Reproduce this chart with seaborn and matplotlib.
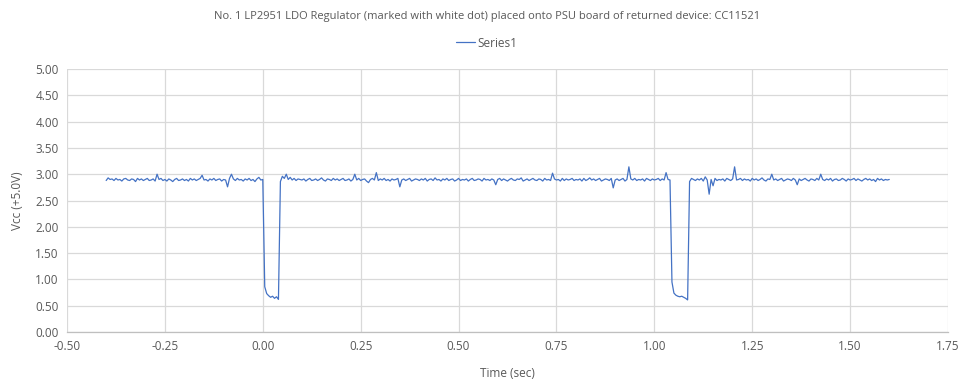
import numpy as np
import pandas as pd
import matplotlib
matplotlib.use("Agg")
import matplotlib.pyplot as plt
import seaborn as sns

# sampled every 5 ms from -0.40 s to 1.60 s
t_start = -0.40
t_step = 0.005

vcc = [
    # -0.40 .. -0.305
    2.88, 2.93, 2.90, 2.91, 2.88, 2.92, 2.89, 2.90, 2.87, 2.91, 2.92, 2.89, 2.88, 2.91, 2.90, 2.86, 2.92, 2.89, 2.91, 2.88,
    # -0.30 .. -0.205
    2.90, 2.92, 2.88, 2.89, 2.91, 2.87, 3.00, 2.90, 2.92, 2.88, 2.90, 2.87, 2.91, 2.89, 2.86, 2.90, 2.92, 2.88, 2.89, 2.91,
    # -0.20 .. -0.105
    2.88, 2.90, 2.87, 2.92, 2.89, 2.91, 2.88, 2.90, 2.92, 2.98, 2.89, 2.90, 2.87, 2.91, 2.89, 2.92, 2.88, 2.90, 2.91, 2.87,
    # -0.10 .. -0.005
    2.90, 2.89, 2.76, 2.92, 3.00, 2.91, 2.88, 2.92, 2.89, 2.90, 2.87, 2.91, 2.89, 2.92, 2.88, 2.90, 2.86, 2.91, 2.94, 2.89,
    # 0.00 .. 0.095  (first dropout)
    2.90, 0.86, 0.73, 0.69, 0.66, 0.68, 0.64, 0.67, 0.62, 2.86, 2.96, 2.92, 3.00, 2.90, 2.94, 2.89, 2.92, 2.88, 2.91, 2.90,
    # 0.10 .. 0.195
    2.89, 2.91, 2.87, 2.90, 2.92, 2.88, 2.89, 2.91, 2.88, 2.90, 2.93, 2.89, 2.87, 2.91, 2.90, 2.88, 2.92, 2.89, 2.91, 2.88,
    # 0.20 .. 0.295
    2.90, 2.92, 2.88, 2.89, 2.91, 2.87, 2.90, 3.00, 2.89, 2.92, 2.88, 2.90, 2.91, 2.87, 2.84, 2.90, 2.92, 2.89, 3.03, 2.88,
    # 0.30 .. 0.395
    2.91, 2.89, 2.92, 2.88, 2.90, 2.87, 2.91, 2.89, 2.90, 2.92, 2.76, 2.89, 2.91, 2.88, 2.90, 2.92, 2.87, 2.89, 2.91, 2.90,
    # 0.40 .. 0.495
    2.88, 2.91, 2.89, 2.92, 2.87, 2.90, 2.91, 2.88, 2.93, 2.89, 2.90, 2.87, 2.91, 2.89, 2.92, 2.88, 2.90, 2.91, 2.87, 2.89,
    # 0.50 .. 0.595
    2.92, 2.88, 2.90, 2.89, 2.91, 2.87, 2.90, 2.92, 2.88, 2.89, 2.91, 2.90, 2.87, 2.92, 2.89, 2.90, 2.88, 2.91, 2.89, 2.80,
    # 0.60 .. 0.695
    2.90, 2.92, 2.88, 2.91, 2.89, 2.87, 2.90, 2.92, 2.89, 2.88, 2.91, 2.90, 2.93, 2.87, 2.89, 2.91, 2.88, 2.90, 2.92, 2.89,
    # 0.70 .. 0.795
    2.88, 2.91, 2.90, 2.87, 2.92, 2.89, 2.90, 2.88, 3.02, 2.91, 2.89, 2.90, 2.87, 2.92, 2.88, 2.91, 2.89, 2.90, 2.92, 2.88,
    # 0.80 .. 0.895
    2.90, 2.89, 2.91, 2.87, 2.92, 2.88, 2.90, 2.93, 2.89, 2.91, 2.88, 2.90, 2.92, 2.87, 2.89, 2.91, 2.90, 2.88, 2.92, 2.74,
    # 0.90 .. 0.995
    2.89, 2.91, 2.88, 2.90, 2.92, 2.87, 2.90, 3.14, 2.91, 2.89, 2.92, 2.88, 2.90, 2.89, 2.91, 2.87, 2.92, 2.90, 2.88, 2.91,
    # 1.00 .. 1.095  (second dropout)
    2.89, 2.90, 2.92, 2.88, 2.91, 2.89, 3.03, 2.90, 2.89, 0.95, 0.74, 0.70, 0.68, 0.67, 0.68, 0.66, 0.64, 0.61, 2.86, 2.92,
    # 1.10 .. 1.195
    2.90, 2.88, 2.91, 2.89, 2.92, 2.87, 2.95, 2.89, 2.62, 2.90, 2.78, 2.92, 2.88, 2.90, 2.89, 2.91, 2.87, 2.92, 2.90, 2.88,
    # 1.20 .. 1.295
    2.91, 3.14, 2.89, 2.90, 2.92, 2.88, 2.91, 2.89, 2.90, 2.87, 2.92, 2.89, 2.91, 2.88, 2.90, 2.93, 2.89, 2.87, 2.91, 2.90,
    # 1.30 .. 1.395
    3.00, 2.89, 2.91, 2.88, 2.90, 2.92, 2.87, 2.89, 2.91, 2.90, 2.88, 2.92, 2.89, 2.80, 2.91, 2.88, 2.90, 2.92, 2.89, 2.87,
    # 1.40 .. 1.495
    2.91, 2.90, 2.88, 2.92, 2.89, 3.00, 2.90, 2.88, 2.91, 2.89, 2.92, 2.87, 2.90, 2.91, 2.88, 2.89, 2.92, 2.90, 2.87, 2.91,
    # 1.50 .. 1.60
    2.89, 2.90, 2.92, 2.88, 2.91, 2.89, 2.87, 2.90, 2.92, 2.89, 2.91, 2.88, 2.90, 2.86, 2.92, 2.89, 2.91, 2.88, 2.90, 2.89,
    2.90,
]

x_ticks = [-0.50, -0.25, 0.00, 0.25, 0.50, 0.75, 1.00, 1.25, 1.50, 1.75]
y_ticks = [0.0, 0.5, 1.0, 1.5, 2.0, 2.5, 3.0, 3.5, 4.0, 4.5, 5.0]

title = "No. 1 LP2951 LDO Regulator (marked with white dot) placed onto PSU board of returned device: CC11521"

time = t_start + t_step * np.arange(len(vcc))
df = pd.DataFrame({"Time (sec)": time, "Vcc": vcc, "series": "Series1"})

sns.set_style("white")
plt.rcParams["font.family"] = ["Liberation Sans Narrow", "Open Sans", "DejaVu Sans"]

text_col = "#595959"
grid_col = "#D9D9D9"

fig = plt.figure(figsize=(9.74, 3.91), dpi=100)
ax = fig.add_axes([0.0688, 0.1509, 0.9045, 0.6726])

sns.lineplot(data=df, x="Time (sec)", y="Vcc", hue="series",
             palette=["#4472C4"], linewidth=0.9, ax=ax, legend=True)

ax.set_xlim(-0.5, 1.75)
ax.set_ylim(0, 5)
ax.set_xticks(x_ticks)
ax.set_yticks(y_ticks)
ax.set_xticklabels([f"{v:.2f}" for v in x_ticks])
ax.set_yticklabels([f"{v:.2f}" for v in y_ticks])
ax.tick_params(length=0, labelsize=8.5, colors=text_col, pad=6)
ax.grid(True, color=grid_col, linewidth=0.9)
ax.set_axisbelow(True)
for side in ["top", "right", "left"]:
    ax.spines[side].set_visible(False)
ax.spines["bottom"].set_color("#BFBFBF")
ax.spines["bottom"].set_linewidth(0.9)

ax.set_xlabel("Time (sec)", fontsize=8.5, color=text_col, labelpad=10)
ax.set_ylabel("Vcc (+5.0V)", fontsize=8.5, color=text_col, labelpad=8)

handles, labels = ax.get_legend_handles_labels()
ax.legend(handles, ["Series1"], loc="center", bbox_to_anchor=(0.5, 0.89),
          bbox_transform=fig.transFigure, frameon=False, fontsize=8.5,
          handlelength=1.6, handletextpad=0.2, labelcolor=text_col)

fig.text(0.5, 0.958, title, ha="center", va="center", fontsize=8, color=text_col)

fig.savefig("out.png", dpi=100)
